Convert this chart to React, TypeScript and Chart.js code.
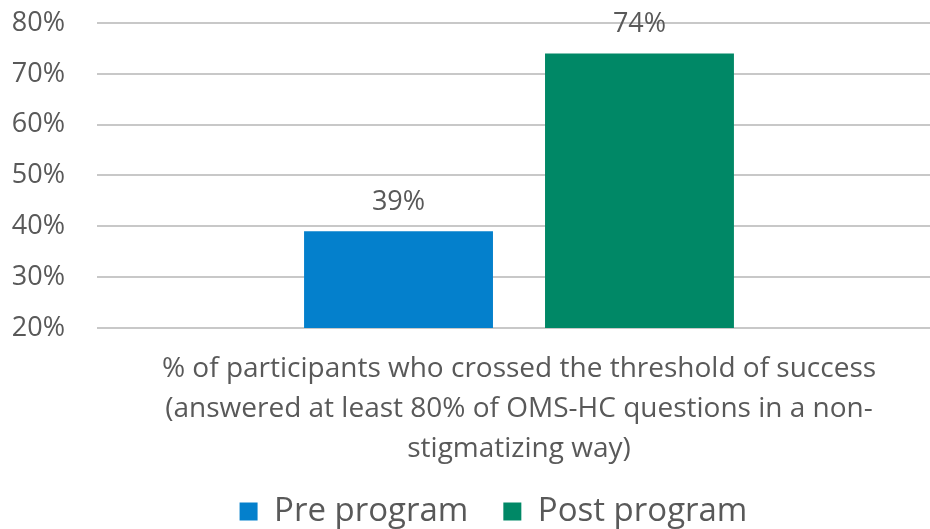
import React, { useEffect, useRef } from "react";
import { Chart, registerables } from "chart.js";

Chart.register(...registerables);

const categories: string[][] = [
  [
    "% of participants who crossed the threshold of success",
    "(answered at least 80% of OMS-HC questions in a non-",
    "stigmatizing way)",
  ],
];
const seriesNames = ["Pre program", "Post program"];
const preValues = [39];
const postValues = [74];
const yTicks = [20, 30, 40, 50, 60, 70, 80];

const textColor = "#595959";
const fontFamily = "'Open Sans', 'DejaVu Sans', sans-serif";

const valueLabels = {
  id: "valueLabels",
  afterDatasetsDraw(chart: any) {
    const ctx = chart.ctx;
    ctx.save();
    ctx.fillStyle = textColor;
    ctx.font = `27px ${fontFamily}`;
    ctx.textAlign = "center";
    ctx.textBaseline = "alphabetic";
    chart.data.datasets.forEach((ds: any, i: number) => {
      const meta = chart.getDatasetMeta(i);
      meta.data.forEach((el: any, j: number) => {
        ctx.fillText(`${ds.data[j]}%`, el.x, el.y - 21);
      });
    });
    ctx.restore();
  },
};

const legendShift = {
  id: "legendShift",
  afterLayout(chart: any) {
    const lg = chart.legend;
    if (lg) {
      lg.left += 23;
      lg.right += 23;
      lg.top -= 30;
      lg.bottom -= 30;
    }
  },
};

export default function App() {
  const ref = useRef<HTMLCanvasElement>(null);
  useEffect(() => {
    if (!ref.current) return;
    const chart = new Chart(ref.current, {
      type: "bar",
      data: {
        labels: categories as any,
        datasets: [
          {
            label: seriesNames[0],
            data: preValues,
            backgroundColor: "#0480CC",
            borderWidth: 0,
          },
          {
            label: seriesNames[1],
            data: postValues,
            backgroundColor: "#008866",
            borderWidth: 0,
          },
        ],
      },
      options: {
        animation: false,
        responsive: true,
        maintainAspectRatio: false,
        layout: { padding: { top: 23, right: 0, left: 0, bottom: -39 } },
        datasets: {
          bar: { categoryPercentage: 0.571, barPercentage: 0.784 },
        },
        plugins: {
          legend: {
            position: "bottom",
            labels: {
              boxWidth: 18,
              boxHeight: 18,
              padding: 35,
              color: textColor,
              font: { size: 33, family: fontFamily },
            },
          },
          tooltip: { enabled: false },
        },
        scales: {
          x: {
            grid: { display: false, drawTicks: false },
            border: { display: false },
            ticks: {
              color: textColor,
              font: { size: 28, family: fontFamily, lineHeight: 1.43 },
              padding: 21,
            },
          },
          y: {
            min: 20,
            max: 80,
            afterBuildTicks: (axis: any) => {
              axis.ticks = yTicks.map((v) => ({ value: v }));
            },
            afterFit: (axis: any) => {
              axis.width = 97;
              axis.paddingTop = 0;
              axis.paddingBottom = 0;
            },
            grid: { color: "#C8C8C8", lineWidth: 2, drawTicks: false },
            border: { display: false },
            ticks: {
              color: textColor,
              font: { size: 27, family: fontFamily },
              padding: 32,
              callback: (v: any) => `${v}%`,
            },
          },
        },
      },
      plugins: [valueLabels, legendShift],
    });
    return () => chart.destroy();
  }, []);
  return (
    <div style={{ position: "fixed", left: 0, top: 0, width: 930, height: 529, overflow: "hidden", background: "#fff" }}>
      <div style={{ position: "absolute", left: 0, top: 0, width: 941, height: 529 }}>
        <canvas ref={ref} />
      </div>
    </div>
  );
}
